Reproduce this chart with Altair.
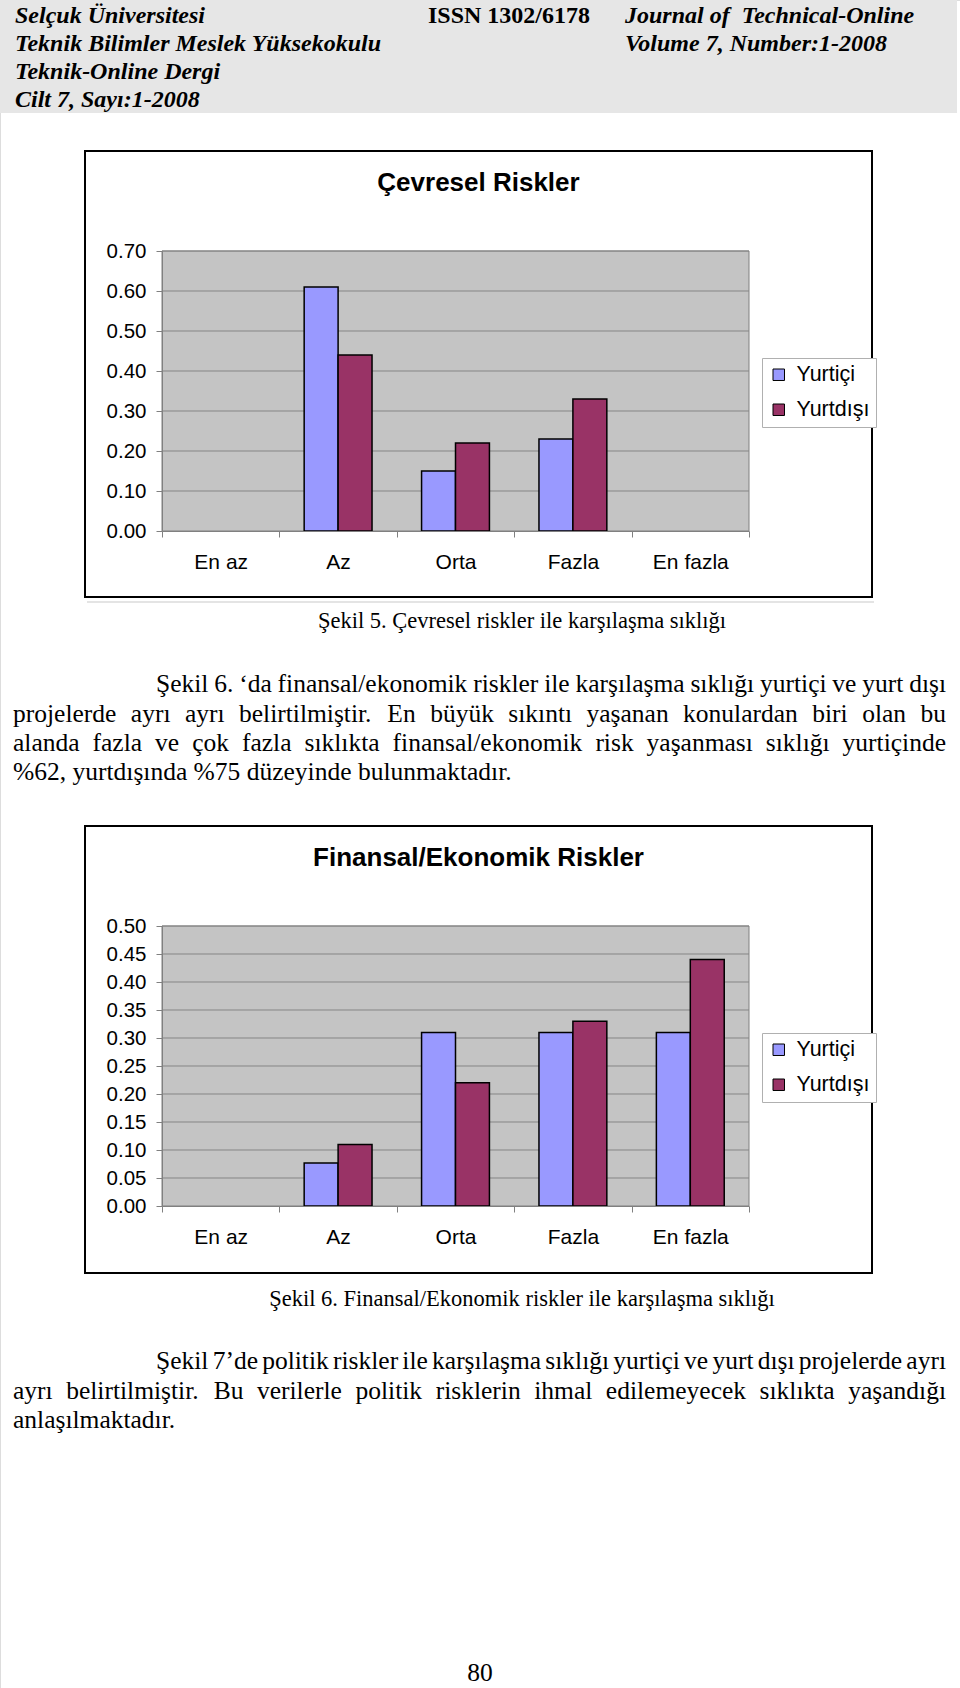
import altair as alt
import pandas as pd

# ---------------- data ----------------
categories = ["En az", "Az", "Orta", "Fazla", "En fazla"]
series_names = ["Yurtiçi", "Yurtdışı"]
series_colors = ["#9999FF", "#993366"]

cevresel_yurtici = [0.00, 0.61, 0.15, 0.23, 0.00]
cevresel_yurtdisi = [0.00, 0.44, 0.22, 0.33, 0.00]
cevresel_ticks = [0.00, 0.10, 0.20, 0.30, 0.40, 0.50, 0.60, 0.70]

finansal_yurtici = [0.00, 0.077, 0.31, 0.31, 0.31]
finansal_yurtdisi = [0.00, 0.11, 0.22, 0.33, 0.44]
finansal_ticks = [0.00, 0.05, 0.10, 0.15, 0.20, 0.25, 0.30, 0.35, 0.40, 0.45, 0.50]

cevresel_title = "Çevresel Riskler"
finansal_title = "Finansal/Ekonomik Riskler"

header_left = ["Selçuk Üniversitesi", "Teknik Bilimler Meslek Yüksekokulu",
               "Teknik-Online Dergi", "Cilt 7, Sayı:1-2008"]
header_issn = "ISSN 1302/6178"
header_right = ["Journal of\u00a0 Technical-Online", "Volume 7, Number:1-2008"]

caption_5 = "Şekil 5. Çevresel riskler ile karşılaşma sıklığı"
paragraph_1 = [
    "Şekil 6. ‘da finansal/ekonomik riskler ile karşılaşma sıklığı yurtiçi ve yurt dışı",
    "projelerde ayrı ayrı belirtilmiştir. En büyük sıkıntı yaşanan konulardan biri olan bu",
    "alanda fazla ve çok fazla sıklıkta finansal/ekonomik risk yaşanması sıklığı yurtiçinde",
    "%62, yurtdışında %75 düzeyinde bulunmaktadır.",
]
caption_6 = "Şekil 6. Finansal/Ekonomik riskler ile karşılaşma sıklığı"
paragraph_2 = [
    "Şekil 7’de politik riskler ile karşılaşma sıklığı yurtiçi ve yurt dışı projelerde ayrı",
    "ayrı belirtilmiştir. Bu verilerle politik risklerin ihmal edilemeyecek sıklıkta yaşandığı",
    "anlaşılmaktadır.",
]
page_number = "80"

# ---------------- layout / style ----------------
PAGE_W, PAGE_H = 960, 1688
SERIF = "Liberation Serif"
SANS = "Liberation Sans"
BODY = 25.5
CAPTION = 22.5
CAPTION_X = 522
HEAD = 24
L_MARGIN, R_MARGIN, INDENT = 13, 946, 156
PLOT_FILL = "#c4c4c4"
GRID = "#858585"
AXIS = "#808080"

TIMES = {' ': 250, 'a': 444, 'b': 500, 'c': 444, 'd': 500, 'e': 444, 'f': 333, 'g': 500,
         'h': 500, 'i': 278, 'j': 278, 'k': 500, 'l': 278, 'm': 778, 'n': 500, 'o': 500,
         'p': 500, 'q': 500, 'r': 333, 's': 389, 't': 278, 'u': 500, 'v': 500, 'w': 722,
         'x': 500, 'y': 500, 'z': 444, 'ç': 444, 'ğ': 500, 'ı': 278, 'ş': 389, 'ü': 500,
         'ö': 500, 'B': 667, 'E': 611, 'F': 556, 'Ş': 556, 'Ç': 667, '.': 250, ',': 250,
         '/': 278, '%': 833, '‘': 333, '’': 333, ':': 278, '-': 333}


def text_width(s, size=BODY):
    return sum(TIMES.get(ch, 500) for ch in s) / 1000 * size


def place_line(line, y, x_start, justify):
    words = line.split(" ")
    widths = [text_width(w) for w in words]
    if justify and len(words) > 1:
        gap = (R_MARGIN - x_start - sum(widths)) / (len(words) - 1)
    else:
        gap = text_width(" ")
    rows, x = [], x_start
    for w, wd in zip(words, widths):
        rows.append({"t": w, "x": x, "y": y})
        x += wd + gap
    return rows


panels = [
    dict(box=(85, 151, 872, 597), plot=(162, 251, 749, 531), title_y=183, legend=(762, 358)),
    dict(box=(85, 826, 872, 1273), plot=(162, 926, 749, 1206), title_y=858, legend=(762, 1033)),
]


def rect(x0, y0, x1, y1, **kw):
    return alt.Chart().mark_rect(**kw).encode(
        x=alt.value(x0), x2=alt.value(x1), y=alt.value(y0), y2=alt.value(y1))


def label(text, x, y, **kw):
    return alt.Chart().mark_text(text=text, **kw).encode(x=alt.value(x), y=alt.value(y))


# ---------------- page elements ----------------
page_layers = [rect(0, 0, 957, 113, fill="#e6e6e6")]

head_rows = [{"t": t, "x": 15, "y": 16 + 28 * i} for i, t in enumerate(header_left)]
head_rows += [{"t": t, "x": 625, "y": 16 + 28 * i} for i, t in enumerate(header_right)]
page_layers.append(
    alt.Chart(pd.DataFrame(head_rows)).mark_text(
        align="left", baseline="middle", font=SERIF, fontSize=HEAD,
        fontWeight="bold", fontStyle="italic", color="black").encode(
        x=alt.X("x:Q", scale=None), y=alt.Y("y:Q", scale=None), text="t:N"))
page_layers.append(label(header_issn, 428, 16, align="left", baseline="middle", font=SERIF,
                         fontSize=HEAD, fontWeight="bold", color="black"))

titles = [cevresel_title, finansal_title]
for p, ttl in zip(panels, titles):
    bx0, by0, bx1, by1 = p["box"]
    px0, py0, px1, py1 = p["plot"]
    page_layers.append(rect(bx0, by0, bx1, by1, fill="white", stroke="black", strokeWidth=2))
    page_layers.append(rect(px0, py0, px1, py1, fill=PLOT_FILL, stroke=AXIS, strokeWidth=1))
    page_layers.append(label(ttl, (bx0 + bx1) / 2, p["title_y"], align="center", baseline="middle",
                             font=SANS, fontSize=26, fontWeight="bold", color="black"))

page_layers.append(alt.Chart().mark_rule(color="#e4e4e4", strokeWidth=2).encode(
    x=alt.value(87), x2=alt.value(874), y=alt.value(602)))

body_rows = []
p1_y = [684, 713.5, 743, 772]
for i, (line, y) in enumerate(zip(paragraph_1, p1_y)):
    body_rows += place_line(line, y, INDENT if i == 0 else L_MARGIN, i < len(paragraph_1) - 1)
p2_y = [1361, 1390.5, 1420]
for i, (line, y) in enumerate(zip(paragraph_2, p2_y)):
    body_rows += place_line(line, y, INDENT if i == 0 else L_MARGIN, i < len(paragraph_2) - 1)
page_layers.append(
    alt.Chart(pd.DataFrame(body_rows)).mark_text(
        align="left", baseline="middle", font=SERIF, fontSize=BODY, color="black").encode(
        x=alt.X("x:Q", scale=None), y=alt.Y("y:Q", scale=None), text="t:N"))

for txt, y in [(caption_5, 621), (caption_6, 1299)]:
    page_layers.append(label(txt, CAPTION_X, y, align="center", baseline="middle", font=SERIF,
                             fontSize=CAPTION, color="black"))
page_layers.append(label(page_number, 480, 1673, align="center", baseline="middle", font=SERIF,
                         fontSize=BODY, color="black"))


# ---------------- bar panels ----------------
def bar_panel(yurtici, yurtdisi, ticks, p):
    px0, py0, px1, py1 = p["plot"]
    lx, ly = p["legend"]
    df = pd.DataFrame({
        "Kategori": categories * 2,
        "Seri": [series_names[0]] * len(categories) + [series_names[1]] * len(categories),
        "Deger": yurtici + yurtdisi,
    })
    yscale = alt.Scale(domain=[ticks[0], ticks[-1]], range=[py1, py0], nice=False, zero=True)
    yaxis = alt.Axis(orient="left", offset=-px0, values=ticks, format=".2f", title=None,
                     grid=False, domainColor=AXIS, tickColor=AXIS, tickSize=6,
                     labelFont=SANS, labelFontSize=20.5, labelColor="black",
                     labelPadding=10, zindex=1)
    xaxis = alt.Axis(orient="bottom", offset=-(PAGE_H - py1), title=None, grid=False,
                     tickBand="extent", domainColor=AXIS, tickColor=AXIS, tickSize=6,
                     labelFont=SANS, labelFontSize=21, labelColor="black",
                     labelAngle=0, labelPadding=14, zindex=1)
    grid = alt.Chart(pd.DataFrame({"v": ticks[1:]})).mark_rule(color=GRID, strokeWidth=1).encode(
        y=alt.Y("v:Q", scale=yscale, axis=yaxis),
        x=alt.value(px0), x2=alt.value(px1))
    bars = alt.Chart(df).transform_filter("datum.Deger > 0").mark_bar(
        stroke="black", strokeWidth=1.5).encode(
        x=alt.X("Kategori:N", scale=alt.Scale(domain=categories, range=[px0, px1],
                                              paddingInner=0, paddingOuter=0), axis=xaxis),
        xOffset=alt.XOffset("Seri:N", scale=alt.Scale(domain=series_names, paddingInner=0,
                                                      paddingOuter=0.73)),
        y=alt.Y("Deger:Q", scale=yscale, axis=yaxis),
        color=alt.Color("Seri:N", scale=alt.Scale(domain=series_names, range=series_colors),
                        legend=alt.Legend(orient="none", legendX=lx, legendY=ly, title=None,
                                          symbolType="square", symbolSize=132,
                                          symbolStrokeColor="black", symbolStrokeWidth=1,
                                          labelFont=SANS, labelFontSize=21.5, labelColor="black",
                                          labelOffset=7, padding=6, rowPadding=12,
                                          strokeColor="#b0b0b0", fillColor="white")),
    )
    return alt.layer(grid, bars)


chart1 = bar_panel(cevresel_yurtici, cevresel_yurtdisi, cevresel_ticks, panels[0])
chart2 = bar_panel(finansal_yurtici, finansal_yurtdisi, finansal_ticks, panels[1])

page = alt.layer(*page_layers)

chart = alt.layer(page, chart1, chart2).resolve_scale(
    x="independent", y="independent", xOffset="independent", color="independent"
).properties(
    width=PAGE_W, height=PAGE_H, padding=0,
    autosize=alt.AutoSizeParams(type="none"),
).configure_view(stroke=None).configure(background="white")

chart.save("out.html", embed_options={"renderer": "svg", "actions": False})
